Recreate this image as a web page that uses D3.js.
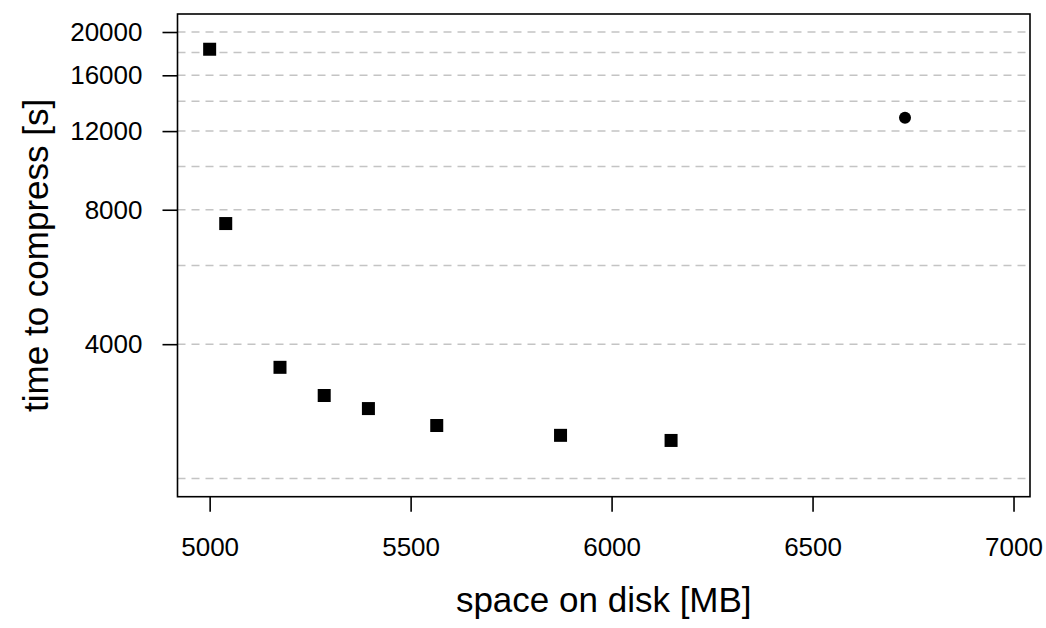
<!DOCTYPE html>
<html>
<head>
<meta charset="utf-8">
<script src="https://cdn.jsdelivr.net/npm/d3@7/dist/d3.min.js"></script>
<style>
  html, body { margin: 0; padding: 0; background: #ffffff; }
  svg { display: block; font-family: "Liberation Sans", Arial, Helvetica, sans-serif; }
</style>
</head>
<body>
<svg id="chart" width="1046" height="628"></svg>
<script>
// ---- data ----
const squareX = [5000, 5040, 5175, 5285, 5395, 5565, 5873, 6148];
const squareY = [18300, 7450, 3550, 3070, 2870, 2630, 2500, 2435];
const circleX = [6730];
const circleY = [12860];
const xTickValues = [5000, 5500, 6000, 6500, 7000];
const yTickValues = [4000, 8000, 12000, 16000, 20000];
const yGridValues = [2000, 4000, 6000, 8000, 10000, 12000, 14000, 16000, 18000, 20000];
const xDomain = [4920, 7041];
const yDomain = [1822, 21946];
const xTitle = "space on disk [MB]";
const yTitle = "time to compress [s]";

(function () {
  // ---- layout ----
  const pLeft = 177.5, pRight = 1030, pTop = 14, pBottom = 496.7;

  const svg = d3.select("#chart");
  const x = d3.scaleLinear().domain(xDomain).range([pLeft, pRight]);
  const y = d3.scaleLog().domain(yDomain).range([pBottom, pTop]);

  // grid
  svg.append("g").selectAll("line").data(yGridValues).join("line")
    .attr("x1", pLeft).attr("x2", pRight)
    .attr("y1", d => y(d)).attr("y2", d => y(d))
    .attr("stroke", "#c4c4c4").attr("stroke-width", 1.5)
    .attr("stroke-dasharray", "8,6");

  // box
  svg.append("rect").attr("x", pLeft).attr("y", pTop)
    .attr("width", pRight - pLeft).attr("height", pBottom - pTop)
    .attr("fill", "none").attr("stroke", "#000").attr("stroke-width", 1.6);

  // axes
  const xAxis = d3.axisBottom(x).tickValues(xTickValues).tickSize(15).tickPadding(26)
    .tickFormat(d3.format("d"));
  const gx = svg.append("g").attr("transform", `translate(0,${pBottom})`).call(xAxis);
  gx.select(".domain").remove();
  gx.selectAll(".tick line").attr("stroke", "#000").attr("stroke-width", 1.6);
  gx.selectAll(".tick text").attr("font-size", 26).attr("fill", "#000")
    .attr("font-family", "Liberation Sans, Arial, sans-serif");

  const yAxis = d3.axisLeft(y).tickValues(yTickValues).tickSize(15).tickPadding(20)
    .tickFormat(d3.format("d"));
  const gy = svg.append("g").attr("transform", `translate(${pLeft},0)`).call(yAxis);
  gy.select(".domain").remove();
  gy.selectAll(".tick line").attr("stroke", "#000").attr("stroke-width", 1.6);
  gy.selectAll(".tick text").attr("font-size", 26).attr("fill", "#000")
    .attr("font-family", "Liberation Sans, Arial, sans-serif");

  // points
  const sq = 13;
  svg.append("g").selectAll("rect").data(squareX.map((v, i) => [v, squareY[i]])).join("rect")
    .attr("x", d => x(d[0]) - sq / 2).attr("y", d => y(d[1]) - sq / 2)
    .attr("width", sq).attr("height", sq).attr("fill", "#000");

  svg.append("g").selectAll("circle").data(circleX.map((v, i) => [v, circleY[i]])).join("circle")
    .attr("cx", d => x(d[0])).attr("cy", d => y(d[1])).attr("r", 6).attr("fill", "#000");

  // titles
  svg.append("text").attr("x", (pLeft + pRight) / 2).attr("y", 612)
    .attr("text-anchor", "middle").attr("font-size", 35).attr("fill", "#000")
    .text(xTitle);
  svg.append("text").attr("transform", `translate(47.5,${(pTop + pBottom) / 2}) rotate(-90)`)
    .attr("text-anchor", "middle").attr("font-size", 35).attr("fill", "#000")
    .text(yTitle);
})();
</script>
</body>
</html>
